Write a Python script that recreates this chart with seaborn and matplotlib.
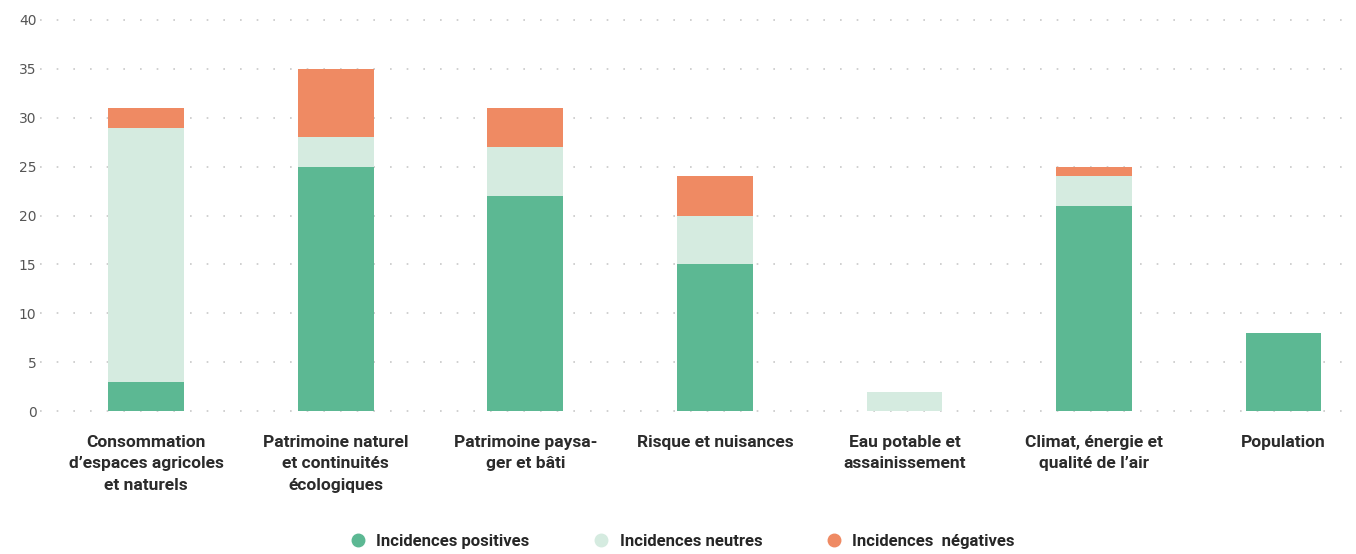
"""
Incidences par thématique - barres empilées
"""

import numpy as np
import pandas as pd
import seaborn as sns
import matplotlib.pyplot as plt
from matplotlib.lines import Line2D

sns.set_style('white')
plt.rcParams['font.family'] = ['DejaVu Sans']

categories = ["Consommation\nd’espaces agricoles\net naturels",
              "Patrimoine naturel\net continuités\nécologiques",
              "Patrimoine paysa-\nger et bâti",
              "Risque et nuisances",
              "Eau potable et\nassainissement",
              "Climat, énergie et\nqualité de l’air",
              "Population"]
positives = [3, 25, 22, 15, 0, 21, 8]
neutres = [26, 3, 5, 5, 2, 3, 0]
negatives = [2, 7, 4, 4, 0, 1, 0]
yticks = [0, 5, 10, 15, 20, 25, 30, 35, 40]

col_pos = '#5cb893'
col_neu = '#d5ebe0'
col_neg = '#ef8a63'
label_font = ['Roboto', 'DejaVu Sans']

df = pd.DataFrame({'cat': categories, 'pos': positives, 'neu': neutres, 'neg': negatives})
df['pos_neu'] = df['pos'] + df['neu']
df['total'] = df['pos_neu'] + df['neg']

fig = plt.figure(figsize=(13.56, 5.54), dpi=100)
ax = fig.add_axes([0.0295, 0.258, 0.966, 0.706])

# stacked bars by overlaying the cumulative totals
for col, c in [('total', col_neg), ('pos_neu', col_neu), ('pos', col_pos)]:
    sns.barplot(data=df, x='cat', y=col, color=c, width=0.4, saturation=1,
                linewidth=0, ax=ax, zorder=3)

ax.set_xlim(-0.56, 6.35)
ax.set_ylim(0, 40)
ax.set_yticks(yticks)
ax.set_yticklabels([str(v) for v in yticks], color='#555555', fontsize=10)
ax.set_xlabel('')
ax.set_ylabel('')
ax.set_xticks(range(len(categories)))
ax.set_xticklabels(categories, fontsize=12.5, fontweight='bold', family=label_font,
                   color='#2b2b2b', linespacing=1.55)
ax.tick_params(axis='x', length=0, pad=17)
ax.tick_params(axis='y', length=0, pad=2.5)
for s in ax.spines.values():
    s.set_visible(False)
for v in yticks:
    ax.axhline(v, color='#c8c8c8', lw=1.2, linestyle=(0, (1, 9)), zorder=1, clip_on=False)

handles = [Line2D([], [], marker='o', ls='', color=col_pos, markersize=9),
           Line2D([], [], marker='o', ls='', color=col_neu, markersize=9),
           Line2D([], [], marker='o', ls='', color=col_neg, markersize=9)]
labels = ['Incidences positives', 'Incidences neutres', 'Incidences  négatives']
fig.legend(handles, labels, loc='lower center', bbox_to_anchor=(0.5, -0.018), ncol=3,
           frameon=False, handletextpad=0.1, columnspacing=3.3,
           prop={'weight': 'bold', 'size': 12, 'family': label_font})

plt.savefig('out.png', dpi=100)
